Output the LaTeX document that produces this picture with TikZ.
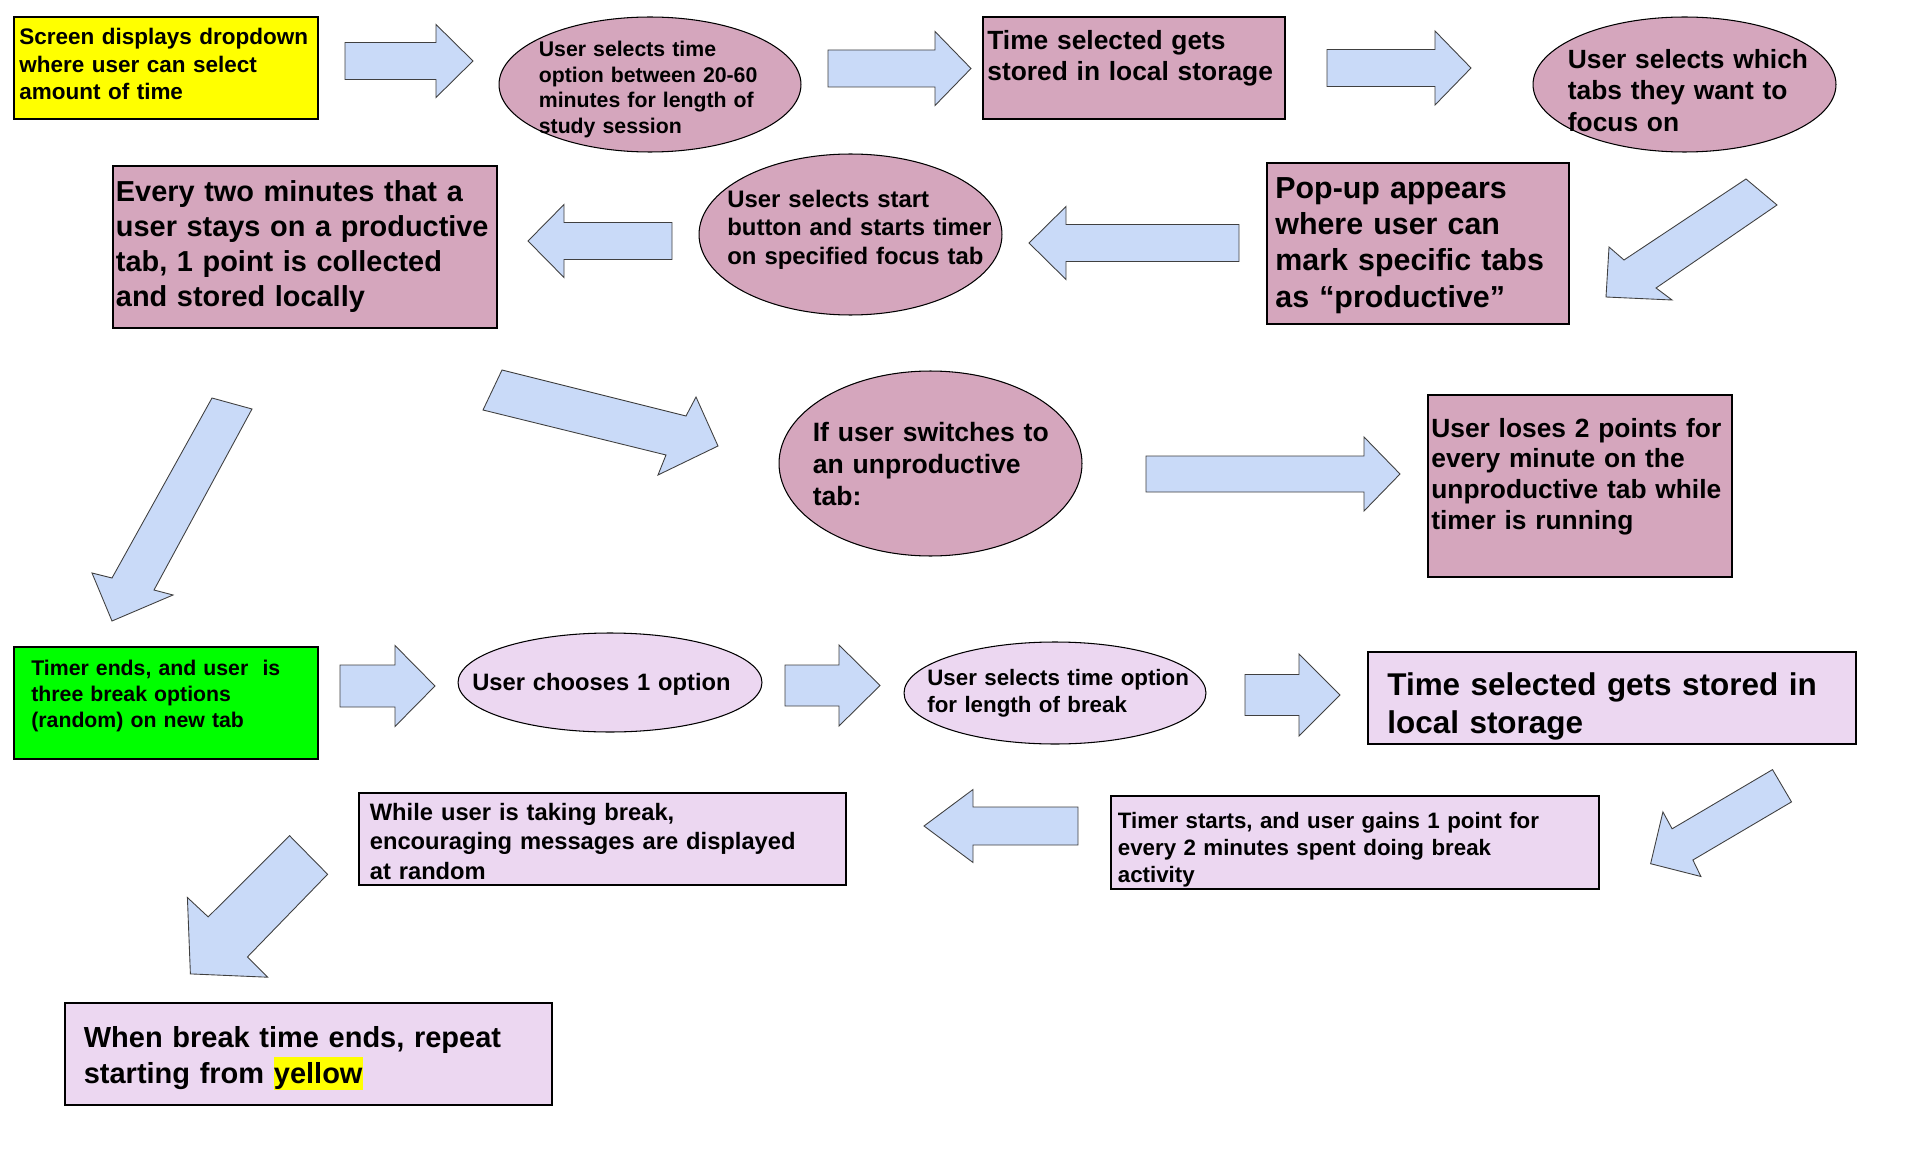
\documentclass[tikz,border=0pt]{standalone}
\usepackage{fontspec}
\setmainfont{Liberation Sans}
\usetikzlibrary{shapes.geometric}

\definecolor{mauve}{HTML}{D5A6BD}
\definecolor{lilac}{RGB}{236,215,241}
\definecolor{arrowblue}{HTML}{C9DAF8}
\definecolor{hiyellow}{HTML}{FFFF00}
\definecolor{higreen}{HTML}{00FF00}

% block arrow: tail x, centre y, head base x, tip x, shaft half, head half
\newcommand{\blockarrow}[6]{%
  \draw[barrow] (#1,#2-#5) -- (#3,#2-#5) -- (#3,#2-#6) -- (#4,#2) -- (#3,#2+#6) -- (#3,#2+#5) -- (#1,#2+#5) -- cycle;}
\newcommand{\hilite}[1]{{\fboxsep=0pt\colorbox{hiyellow}{\rule[-0.22em]{0pt}{1.13em}#1}}}

\begin{document}
\begin{tikzpicture}[x=0.02cm, y=-0.02cm]
\tikzset{box/.style = {draw, rectangle, line width=1pt, inner sep=0pt},
         oval/.style = {draw, ellipse, line width=0.6pt, inner sep=0pt},
         txt/.style = {inner sep=0pt, align=left, anchor=base west},
         barrow/.style = {draw=black!75, line width=0.5pt, fill=arrowblue, line join=miter}}
\path[fill=white] (0,0) rectangle (1920,1152);

% study session
\node[box, fill=hiyellow, minimum width=6.08cm, minimum height=2.04cm] (dropdown) at (166,68) {};
\node[txt, text width=5.9cm, font=\fontsize{12.8}{15.4}\bfseries] (dropdown-t) at (19,45) {Screen displays dropdown\\where user can select\\amount of time};
\node[oval, fill=mauve, minimum width=6.04cm, minimum height=2.7cm] (timeopt) at (650,84.5) {};
\node[txt, text width=5.2cm, font=\fontsize{12.1}{14.6}\bfseries] (timeopt-t) at (538.5,56.4) {User selects time\\option between 20-60\\minutes for length of\\study session};
\node[box, fill=mauve, minimum width=6.04cm, minimum height=2.04cm] (stored) at (1134,68) {};
\node[txt, text width=5.9cm, font=\fontsize{15}{17.6}\bfseries] (stored-t) at (987,49.2) {Time selected gets\\stored in local storage};
\node[oval, fill=mauve, minimum width=6.06cm, minimum height=2.7cm] (tabs) at (1684.5,84.5) {};
\node[txt, text width=5.3cm, font=\fontsize{15}{17.9}\bfseries] (tabs-t) at (1567.5,68.4) {User selects which\\tabs they want to\\focus on};
\node[box, fill=mauve, minimum width=6.04cm, minimum height=3.22cm] (popup) at (1418,243.5) {};
\node[txt, text width=5.8cm, font=\fontsize{17.3}{20.6}\bfseries] (popup-t) at (1275,198.5) {Pop-up appears\\where user can\\mark specific tabs\\as “productive”};
\node[oval, fill=mauve, minimum width=6.06cm, minimum height=3.22cm] (start) at (850.5,234.5) {};
\node[txt, text width=5.4cm, font=\fontsize{13.6}{16.2}\bfseries] (start-t) at (727,207.5) {User selects start\\button and starts timer\\on specified focus tab};
\node[box, fill=mauve, minimum width=7.68cm, minimum height=3.24cm] (points) at (305,247) {};
\node[txt, text width=7.6cm, font=\fontsize{16.45}{19.9}\bfseries] (points-t) at (115.6,201.7) {Every two minutes that a\\user stays on a productive\\tab, 1 point is collected\\and stored locally};
\node[oval, fill=mauve, minimum width=6.06cm, minimum height=3.7cm] (switch) at (930.5,463.5) {};
\node[txt, text width=5.3cm, font=\fontsize{15.1}{18.2}\bfseries] (switch-t) at (812.5,441.7) {If user switches to\\an unproductive\\tab:};
\node[box, fill=mauve, minimum width=6.08cm, minimum height=3.64cm] (lose) at (1580,486) {};
\node[txt, text width=5.9cm, font=\fontsize{15}{17.6}\bfseries] (lose-t) at (1431,437) {User loses 2 points for\\every minute on the\\unproductive tab while\\timer is running};

% break
\node[box, fill=higreen, minimum width=6.08cm, minimum height=2.24cm] (timerend) at (166,703) {};
\node[txt, text width=5.7cm, font=\fontsize{12.1}{14.8}\bfseries] (timerend-t) at (31,675) {Timer ends, and user\ \ is\\three break options\\(random) on new tab};
\node[oval, fill=lilac, minimum width=6.08cm, minimum height=1.98cm] (choose) at (610,682.5) {};
\node[txt, text width=5.7cm, font=\fontsize{13.5}{16.3}\bfseries] (choose-t) at (472,690.5) {User chooses 1 option};
\node[oval, fill=lilac, minimum width=6.04cm, minimum height=2.04cm] (breaklen) at (1055,693) {};
\node[txt, text width=5.5cm, font=\fontsize{12.7}{15.4}\bfseries] (breaklen-t) at (927,685.5) {User selects time option\\for length of break};
\node[box, fill=lilac, minimum width=9.76cm, minimum height=1.84cm] (breakstored) at (1612,698) {};
\node[txt, text width=9.3cm, font=\fontsize{17.9}{21.9}\bfseries] (breakstored-t) at (1387,695.2) {Time selected gets stored in\\local storage};
\node[box, fill=lilac, minimum width=9.76cm, minimum height=1.86cm] (gain) at (1355,842.5) {};
\node[txt, text width=9.5cm, font=\fontsize{12.7}{15.5}\bfseries] (gain-t) at (1117.5,828) {Timer starts, and user gains 1 point for\\every 2 minutes spent doing break\\activity};
\node[box, fill=lilac, minimum width=9.74cm, minimum height=1.84cm] (msgs) at (602.5,839) {};
\node[txt, text width=9.4cm, font=\fontsize{13.5}{16.8}\bfseries] (msgs-t) at (369.5,820) {While user is taking break,\\encouraging messages are displayed\\at random};
\node[box, fill=lilac, minimum width=9.74cm, minimum height=2.04cm] (repeat) at (308.5,1054) {};
\node[txt, text width=9.3cm, font=\fontsize{16.5}{20.7}\bfseries] (repeat-t) at (83.5,1047) {When break time ends, repeat\\starting from \hilite{yellow}};

% arrows
\blockarrow{345}{61}{436}{473}{18.5}{36.5}
\blockarrow{828}{68.5}{935}{971}{18.5}{37}
\blockarrow{1327}{68}{1435}{1471}{18.5}{37}
\blockarrow{1239}{243}{1066}{1029}{18.5}{36.5}
\blockarrow{672}{241}{564}{528}{18.5}{36.5}
\blockarrow{1146}{474}{1364}{1400}{18}{37}
\blockarrow{340}{686}{395}{435}{21}{40.5}
\blockarrow{785}{685.5}{839}{880}{20.5}{40.5}
\blockarrow{1245}{695}{1299}{1340}{20.5}{41}
\blockarrow{1078}{826}{973}{924}{19}{36.5}
\draw[barrow] (1746,179) -- (1777,205) -- (1656,288) -- (1672,300) -- (1606,297) -- (1609,247) -- (1624,260) -- cycle;
\draw[barrow] (212,398) -- (252,409) -- (154,590) -- (173,595) -- (112,621) -- (92,573) -- (112,578) -- cycle;
\draw[barrow] (502,370) -- (686,416) -- (696,397) -- (718,446) -- (658,475) -- (666,455) -- (483,410) -- cycle;
\draw[barrow] (1772.5,769.6) -- (1791.5,801.9) -- (1692.9,860) -- (1700.9,876.5) -- (1650.6,863.7) -- (1662.9,811.9) -- (1672.1,828.8) -- cycle;
\draw[barrow] (289.6,835.7) -- (327.6,874.3) -- (247.4,957) -- (267.6,977.2) -- (190.4,973.9) -- (187.4,897.5) -- (208.2,916.9) -- cycle;
\end{tikzpicture}
\end{document}
